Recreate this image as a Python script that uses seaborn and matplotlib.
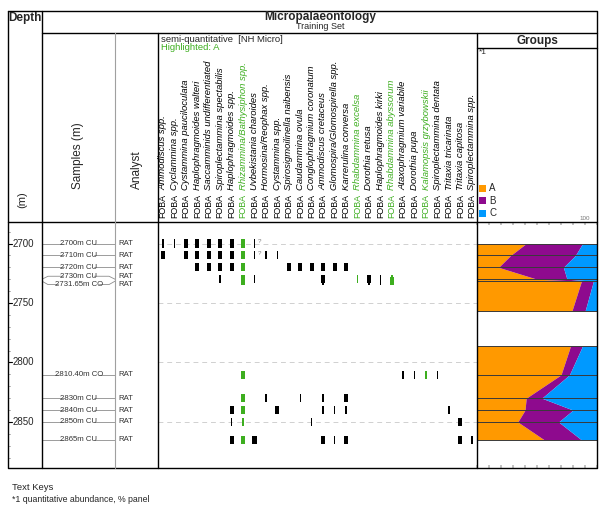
import numpy as np
import pandas as pd
import matplotlib
matplotlib.use("Agg")
import matplotlib.pyplot as plt
import seaborn as sns

# --- taxa (column order in the range chart) ---
taxa = [
    "Ammodiscus spp.", "Cyclammina spp.", "Cystammina pauciloculata",
    "Haplophragmoides walteri", "Saccamminids undifferentiated",
    "Spiroplectammina spectabilis", "Haplophragmoides spp.",
    "Rhizammina/Bathysiphon spp.", "Uvbekistania charoides",
    "Hormosina/Reophax spp.", "Cystammina spp.", "Spirosigmoilinella naibensis",
    "Caudammina ovula", "Conglophragmium coronatum", "Ammodiscus cretaceus",
    "Glomospira/Glomospirella spp.", "Karrerulina conversa",
    "Rhabdammina excelsa", "Dorothia retusa", "Haplophragmoides kirki",
    "Rhabdammina abyssorum", "Ataxophragmium variabile", "Dorothia pupa",
    "Kalamopsis grzybowskii", "Spiroplectammina dentata",
    "Tritaxia tricarinata", "Tritaxia capitosa", "Spiroplectammina spp.",
]
highlighted = [7, 17, 20, 23]

# --- samples ---
sample_depth = [2700, 2710, 2720, 2730, 2731.65, 2810.4, 2830, 2840, 2850, 2865]
sample_name = ["2700m CU", "2710m CU", "2720m CU", "2730m CU", "2731.65m CO",
               "2810.40m CO", "2830m CU", "2840m CU", "2850m CU", "2865m CU"]
sample_label_depth = [2700, 2710, 2720, 2727.5, 2734.5,
                      2810.4, 2830, 2840, 2850, 2865]
analyst = ["RAT"] * 10

# --- occurrences: depth, taxon column, abundance class (1 rare .. 3 common) ---
occ_depth = ([2700] * 9 + [2710] * 10 + [2720] * 11 + [2730] * 8 +
             [2731.65] * 5 + [2810.4] * 5 + [2830] * 5 + [2840] * 7 +
             [2850] * 4 + [2865] * 8)
occ_taxon = [0, 1, 2, 3, 4, 5, 6, 7, 8,
             0, 2, 3, 4, 5, 6, 7, 8, 9, 10,
             3, 4, 5, 6, 7, 11, 12, 13, 14, 15, 16,
             5, 7, 8, 14, 17, 18, 19, 20,
             7, 14, 18, 19, 20,
             7, 21, 22, 23, 24,
             7, 9, 12, 14, 16,
             6, 7, 10, 14, 15, 16, 25,
             6, 7, 13, 26,
             6, 7, 8, 14, 15, 16, 26, 27]
occ_abund = [1, 1, 3, 3, 3, 3, 3, 3, 1,
             3, 3, 3, 3, 3, 3, 3, 1, 1, 1,
             3, 3, 3, 3, 3, 3, 3, 3, 3, 3, 3,
             1, 3, 1, 3, 1, 3, 1, 1,
             3, 2, 1, 1, 3,
             3, 1, 1, 1, 1,
             3, 1, 1, 1, 3,
             3, 3, 3, 1, 1, 2, 1,
             1, 2, 1, 3,
             3, 3, 3, 3, 1, 3, 3, 1]
uncertain_depth = [2700, 2710]
uncertain_taxon = [8, 8]

# --- groups panel (% cumulative), two blocks ---
grp1_depth = [2700, 2710, 2720, 2730, 2731.65, 2757]
grp1_a = [41, 28, 18, 50, 87, 79]
grp1_ab = [88, 82, 72, 75, 97, 90]
grp2_depth = [2786, 2810.4, 2830, 2840, 2850, 2865]
grp2_a = [78, 70, 41, 40, 34, 56]
grp2_ab = [88, 77, 54, 80, 68, 87]
group_names = ["A", "B", "C"]
group_colors = ["#FF9900", "#8E0A8E", "#0099FF"]

GREEN = "#3DAE1F"

sns.set_theme(style="white")
plt.rcParams["font.family"] = ["Liberation Sans", "DejaVu Sans"]

W, H = 602, 515
fig = plt.figure(figsize=(W / 100, H / 100), dpi=100)


def add_ax(x0, y0, x1, y1):
    ax = fig.add_axes([x0 / W, 1 - y1 / H, (x1 - x0) / W, (y1 - y0) / H])
    ax.set_facecolor("none")
    return ax


TOP, BOT = 222, 468
D_TOP, D_BOT = 2681.9, 2888.7
XG = 597

# depth column
ax_d = add_ax(8, TOP, 42, BOT)
for d in range(2690, 2890, 10):
    if d % 50 == 0:
        ax_d.plot([8, 12], [d, d], color="black", lw=0.8)
        ax_d.text(12.5, d, str(d), ha="left", va="center", fontsize=7)
    else:
        ax_d.plot([8, 10], [d, d], color="#999999", lw=0.6)

# samples + analyst
ax_s = add_ax(42, TOP, 158, BOT)
for d, ld, name, who in zip(sample_depth, sample_label_depth, sample_name, analyst):
    hw = len(name) * 1.72 + 1.5
    cx = 79
    ax_s.plot([42, 48, cx - hw], [d, ld, ld], color="#8c8c8c", lw=0.6)
    ax_s.plot([cx + hw, 109, 115], [ld, ld, d], color="#8c8c8c", lw=0.6)
    ax_s.text(cx, ld, name, ha="center", va="center", fontsize=5.6, color="#333333")
    ax_s.text(118, ld, who, ha="left", va="center", fontsize=5.6, color="#333333")

# range chart
ax_m = add_ax(158, TOP, 477, BOT)
for d in [2700, 2750, 2800, 2850]:
    ax_m.axhline(d, color="#d0d0d0", lw=0.7, ls=(0, (5, 4)), zorder=0)

occ = pd.DataFrame({"depth": occ_depth, "taxon": occ_taxon, "abund": occ_abund})
occ["kind"] = np.where(occ["taxon"].isin(highlighted), "hl", "plain")


def bar_marker(hw):
    return [(-hw, -1), (hw, -1), (hw, 1), (-hw, 1), (-hw, -1)]


sns.scatterplot(data=occ, x="taxon", y="depth", hue="kind", style="abund",
                markers={1: bar_marker(0.19), 2: bar_marker(0.32), 3: bar_marker(0.5)},
                palette={"hl": GREEN, "plain": "black"}, s=34,
                linewidth=0, edgecolor="none", legend=False, ax=ax_m, zorder=3)
for d, t in zip(uncertain_depth, uncertain_taxon):
    ax_m.text(t + 0.25, d - 1.5, "?", fontsize=4.5, color="#777777", va="center")

# groups
ax_g = add_ax(477, TOP, XG, BOT)
for dep, a, ab in [(grp1_depth, grp1_a, grp1_ab), (grp2_depth, grp2_a, grp2_ab)]:
    ax_g.fill_betweenx(dep, 0, a, color=group_colors[0], lw=0)
    ax_g.fill_betweenx(dep, a, ab, color=group_colors[1], lw=0)
    ax_g.fill_betweenx(dep, ab, 100, color=group_colors[2], lw=0)
    ax_g.hlines(dep, 0, 100, color="#3a3a3a", lw=0.7)
ax_g.set_xticks(range(0, 101, 10))
ax_g.tick_params(axis="x", direction="in", length=2, color="#bbbbbb",
                 top=True, bottom=True, labelbottom=False)
ax_g.set_yticks([])
for sp in ax_g.spines.values():
    sp.set_visible(False)
ax_g.set_xlim(0, 100)

for ax in [ax_d, ax_s, ax_m]:
    ax.axis("off")
ax_d.set_xlim(8, 42)
ax_s.set_xlim(42, 158)
ax_m.set_xlim((158 - 163) / 11.44, (477 - 163) / 11.44)
for ax in [ax_d, ax_s, ax_m, ax_g]:
    ax.set_ylim(D_BOT, D_TOP)

# overlay: frame and headers in pixel coordinates
ov = fig.add_axes([0, 0, 1, 1], facecolor="none")
ov.set_xlim(0, W)
ov.set_ylim(H, 0)
ov.axis("off")
k = dict(color="black", lw=1.0)
ov.plot([8, XG, XG, 8, 8], [11, 11, BOT, BOT, 11], **k)
ov.plot([42, 42], [11, BOT], **k)
ov.plot([42, XG], [33, 33], **k)
ov.plot([8, XG], [TOP, TOP], **k)
ov.plot([158, 158], [33, BOT], **k)
ov.plot([477, 477], [33, BOT], **k)
ov.plot([477, XG], [48, 48], **k)
ov.plot([115, 115], [33, BOT], color="#a0a0a0", lw=0.8)

ov.text(8.5, 17.5, "Depth", fontsize=8.5, fontweight="bold", ha="left", va="center")
ov.text(320, 17, "Micropalaeontology", fontsize=8.5, fontweight="bold",
        ha="center", va="center")
ov.text(320, 26.5, "Training Set", fontsize=6.5, ha="center", va="center")
ov.text(537, 41, "Groups", fontsize=8.5, fontweight="bold", ha="center", va="center")
ov.text(479, 53, "*1", fontsize=6, ha="left", va="center")
ov.text(161, 39, "semi-quantitative  [NH Micro]", fontsize=6.8, ha="left", va="center")
ov.text(161, 48, "Highlighted: A", fontsize=6.8, ha="left", va="center", color=GREEN)

ov.text(22, 200, "(m)", fontsize=8, rotation=90, ha="center", va="center")
ov.text(78, 156, "Samples (m)", fontsize=8.5, rotation=90, ha="center", va="center")
ov.text(137, 170, "Analyst", fontsize=8.5, rotation=90, ha="center", va="center")

for i, name in enumerate(taxa):
    x = 163 + 11.44 * i
    col = GREEN if i in highlighted else "black"
    ov.text(x, 218, "FOBA", rotation=90, ha="center", va="bottom", fontsize=6.4, color=col)
    ov.text(x, 190.5, name, rotation=90, ha="center", va="bottom", fontsize=6.8,
            color=col, style="italic")

for j, (g, c) in enumerate(zip(group_names, group_colors)):
    y = 188 + 12.5 * j
    ov.add_patch(plt.Rectangle((479, y - 3.5), 7, 7, color=c, lw=0))
    ov.text(489, y, g, fontsize=7, ha="left", va="center")
ov.text(590, 219, "100", fontsize=4.5, color="#777777", ha="right", va="center")

ov.text(12, 488, "Text Keys", fontsize=6.8, ha="left", va="center")
ov.text(12, 500, "*1 quantitative abundance, % panel", fontsize=6.3, ha="left", va="center")

fig.savefig("out.png", dpi=100)
